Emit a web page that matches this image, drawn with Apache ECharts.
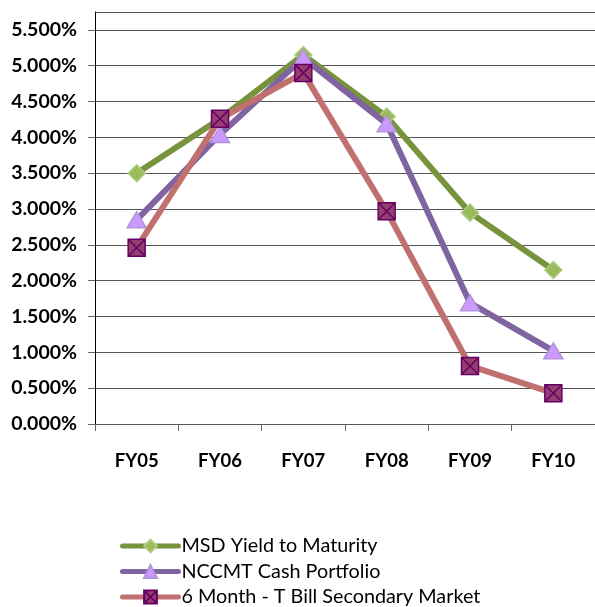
<!DOCTYPE html>
<html><head><meta charset="utf-8">
<script src="https://cdn.jsdelivr.net/npm/echarts@6/dist/echarts.min.js"></script>
<style>html,body{margin:0;padding:0;background:#fff}#c{width:595px;height:607px}</style>
</head><body><div id="c"></div>
<script>
const categories = ['FY05','FY06','FY07','FY08','FY09','FY10'];
const msdYield = [3.50, 4.26, 5.15, 4.29, 2.95, 2.15];
const nccmtCash = [2.85, 4.04, 5.11, 4.19, 1.69, 1.02];
const tBill6m = [2.46, 4.26, 4.90, 2.97, 0.81, 0.43];
const seriesNames = ['MSD Yield to Maturity','NCCMT Cash Portfolio','6 Month - T Bill Secondary Market'];

const FONT = 'Lato, "Liberation Sans", Arial, sans-serif';
const sqX = 'path://M0,0L10,0L10,10L0,10Z M0,0L10,10 M10,0L0,10';
const legendTops = [536, 561.5, 587];
const chart = echarts.init(document.getElementById('c'), null, {renderer:'canvas'});
chart.setOption({
  animation:false,
  backgroundColor:'#fff',
  grid:{left:95, top:12, width:504, bottom:183, containLabel:false},
  xAxis:{type:'category', data:categories, boundaryGap:true,
    axisLine:{lineStyle:{color:'#555', width:1}},
    axisTick:{show:true, length:7, lineStyle:{color:'#666'}},
    axisLabel:{margin:28, fontFamily:FONT, fontWeight:'bold', fontSize:18.5, color:'#000'}},
  yAxis:{type:'value', min:0, max:5.75, interval:0.5,
    axisLine:{show:true, lineStyle:{color:'#000'}},
    axisTick:{show:true, length:7, lineStyle:{color:'#666'}},
    splitLine:{show:true, lineStyle:{color:'#555', width:1}},
    axisLabel:{margin:18, fontFamily:FONT, fontWeight:'bold', fontSize:19.5, color:'#000',
      showMaxLabel:false,
      formatter:v => (Math.abs(v*2 - Math.round(v*2))<1e-6 ? v.toFixed(3)+'%' : '')}},
  legend: seriesNames.map((n, i) => ({
    orient:'horizontal', left:120, top:legendTops[i], padding:0, itemWidth:56, itemHeight:16,
    lineStyle:{width:5, cap:'round'},
    textStyle:{fontFamily:FONT, fontSize:19.8, lineHeight:16, color:'#000', padding:[4,0,0,-2]},
    data:[n]})),
  series:[
    {name:seriesNames[0], type:'line', data:msdYield, symbol:'diamond', symbolSize:17,
      lineStyle:{color:'#77933C', width:6}, itemStyle:{color:'#9BBB59', borderColor:'#AFCB84', borderWidth:1.5}, z:2},
    {name:seriesNames[1], type:'line', data:nccmtCash, symbol:'triangle', symbolSize:[19,16],
      lineStyle:{color:'#8064A2', width:6}, itemStyle:{color:'#CC99FF', borderColor:'#B393DC', borderWidth:1.5}, z:3},
    {name:seriesNames[2], type:'line', data:tBill6m, symbol:sqX, symbolSize:17,
      lineStyle:{color:'#C0706F', width:6}, itemStyle:{color:'#953F6F', borderColor:'#660066', borderWidth:1.5}, z:4}
  ]
});
</script></body></html>
